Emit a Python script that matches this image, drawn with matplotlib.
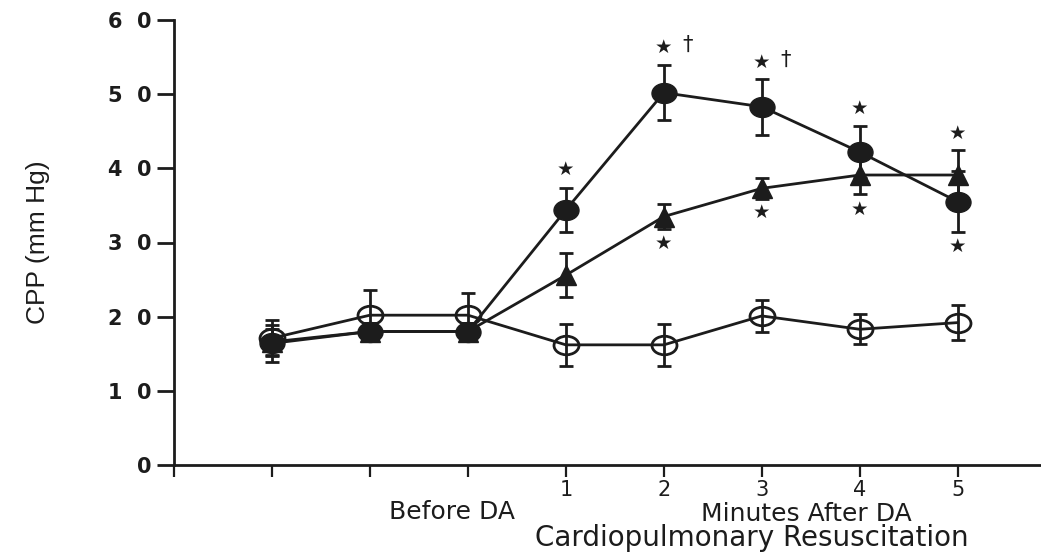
import matplotlib
matplotlib.use("Agg")
import matplotlib.pyplot as plt
from matplotlib.path import Path
from matplotlib.transforms import Affine2D

# ---- data ----
positions = [1, 2, 3, 4, 5, 6, 7, 8]
open_vals = [17.1, 20.2, 20.2, 16.2, 16.2, 20.1, 18.3, 19.2]
open_err = [2.4, 3.4, 3.0, 2.8, 2.8, 2.2, 2.0, 2.4]
filled_vals = [16.4, 18.0, 18.0, 34.4, 50.2, 48.3, 42.2, 35.5]
filled_err = [2.5, 1.2, 1.2, 3.0, 3.7, 3.8, 3.5, 4.1]
tri_vals = [16.6, 18.0, 18.0, 25.6, 33.5, 37.3, 39.1, 39.1]
tri_err = [1.8, 1.2, 1.2, 3.0, 1.7, 1.4, 2.6, 3.4]
xtick_labels = ["", "", "", "", "1", "2", "3", "4", "5"]
ytick_vals = [0, 10, 20, 30, 40, 50, 60]
ytick_labels = ["0", "1  0", "2  0", "3  0", "4  0", "5  0", "6  0"]
# significance stars: (x position, y value)
stars = [(4, 39.8), (5, 56.3), (6, 54.3), (7, 48.1), (8, 44.7),
         (5, 29.9), (6, 34.0), (7, 34.4), (8, 29.5)]
# daggers: (x position, y value)
daggers = [(5, 56.6), (6, 54.6)]

plt.rcParams['font.family'] = ['DejaVu Sans']
ink = '#1c1c1c'

ellipse_filled = Path.unit_circle().transformed(Affine2D().scale(1.25, 1.0))
ellipse_open = Path.unit_circle().transformed(Affine2D().scale(1.35, 1.0))

fig = plt.figure(figsize=(10.41, 5.53), dpi=100)
ax = fig.add_axes([174/1041, 1-465/553, 866/1041, 445/553])

common = dict(color=ink, lw=2.0, elinewidth=2.0, capsize=4.8, capthick=2.0)
ax.errorbar(positions, open_vals, yerr=open_err, marker=ellipse_open, ms=18,
            mfc='none', mec=ink, mew=2.0, zorder=3, **common)
ax.errorbar(positions, tri_vals, yerr=tri_err, marker='^', ms=15,
            mfc=ink, mec=ink, zorder=4, **common)
ax.errorbar(positions, filled_vals, yerr=filled_err, marker=ellipse_filled, ms=18,
            mfc=ink, mec=ink, zorder=5, **common)

for x, y in stars:
    ax.text(x, y, "★", ha='center', va='center', fontsize=14, color=ink)
for x, y in daggers:
    ax.text(x + 0.24, y, "†", ha='center', va='center', fontsize=15, color=ink)

ax.set_xlim(0, 8.84)
ax.set_ylim(0, 60)
ax.set_xticks(range(0, 9))
ax.set_xticklabels(xtick_labels, fontsize=15)
ax.set_yticks(ytick_vals)
ax.set_yticklabels(ytick_labels, fontsize=15, fontweight='bold')
ax.spines['top'].set_visible(False)
ax.spines['right'].set_visible(False)
for s in ('left', 'bottom'):
    ax.spines[s].set_linewidth(2.0)
    ax.spines[s].set_color(ink)
    ax.spines[s].set_clip_on(False)
ax.tick_params(axis='y', length=12, width=2.0, color=ink, pad=4, labelcolor=ink)
ax.tick_params(axis='x', length=8.5, width=1.6, color=ink, pad=2, labelcolor=ink)

ax.set_ylabel("CPP (mm Hg)", fontsize=19, color=ink, labelpad=42,
              family=['Liberation Sans', 'DejaVu Sans'])

fig.text(452/1041, 1-519/553, "Before DA", ha='center', va='baseline', fontsize=18, color=ink)
fig.text(806/1041, 1-521/553, "Minutes After DA", ha='center', va='baseline', fontsize=18, color=ink)
fig.text(752/1041, 1-546/553, "Cardiopulmonary Resuscitation", ha='center', va='baseline',
         fontsize=20, color=ink)

fig.savefig("out.png", dpi=100, facecolor='white')
